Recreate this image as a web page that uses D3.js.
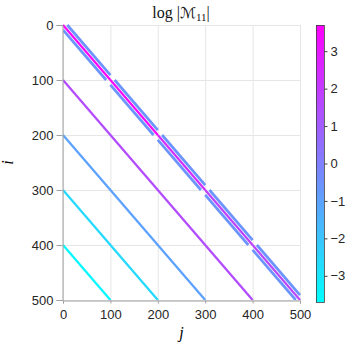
<!DOCTYPE html>
<html>
<head>
<meta charset="utf-8">
<script src="https://cdn.jsdelivr.net/npm/d3@7"></script>
<style>
  body { margin: 0; background: #fff; }
  svg { display: block; }
</style>
</head>
<body>
<svg id="chart" width="346" height="346"></svg>
<script>
// 矩阵块边界 (每块100)
const blockEdges = [0, 100, 200, 300, 400, 500];
const mainDiagValues = [3.6, 3.5, 2.4, 1.8, 1.7];
const bandOffset = 9;
const bandValues = [-0.6, -0.6, -0.6, -0.6, -0.6];
const offDiagOffsets = [100, 200, 300, 400];
const offDiagValues = [1.5, -1.0, -2.6, -3.5];
const xTicks = [0, 100, 200, 300, 400, 500];
const yTicks = [0, 100, 200, 300, 400, 500];
const cbTicks = [-3, -2, -1, 0, 1, 2, 3];
const cbDomain = [-3.7, 3.7];

const svg = d3.select("#chart");
const margin = { left: 63, right: 300, top: 25, bottom: 300 };

var x = d3.scaleLinear().domain([0, 500]).range([margin.left, margin.right]);
var y = d3.scaleLinear().domain([0, 500]).range([margin.top, margin.bottom]);
var color = d3.scaleSequential(d3.interpolateRgb("#00ffff", "#ff00ff")).domain(cbDomain);

// 网格线
const grid = svg.append("g").attr("stroke", "#e6e6e6").attr("stroke-width", 1);
grid.selectAll(".gx").data(xTicks).join("line")
    .attr("x1", d => x(d) + 0.5).attr("x2", d => x(d) + 0.5)
    .attr("y1", margin.top).attr("y2", margin.bottom);
grid.selectAll(".gy").data(yTicks).join("line")
    .attr("y1", d => y(d) + 0.5).attr("y2", d => y(d) + 0.5)
    .attr("x1", margin.left).attr("x2", margin.right);

// 线段
var segs = [];
blockEdges.slice(0, -1).forEach((s, b) => {
    const e = blockEdges[b + 1];
    segs.push({ j0: s + bandOffset, i0: s, j1: e, i1: e - bandOffset, v: bandValues[b], w: 2.7 });
    segs.push({ j0: s, i0: s + bandOffset, j1: e - bandOffset, i1: e, v: bandValues[b], w: 2.7 });
});
offDiagOffsets.forEach((d, k) => {
    segs.push({ j0: 0, i0: d, j1: 500 - d, i1: 500, v: offDiagValues[k], w: 2.3 });
});
blockEdges.slice(0, -1).forEach((s, b) => {
    const e = blockEdges[b + 1];
    segs.push({ j0: s, i0: s, j1: e, i1: e, v: mainDiagValues[b], w: 2.2 });
});

svg.append("defs").append("clipPath").attr("id", "plotClip")
    .append("rect").attr("x", margin.left).attr("y", margin.top - 1)
    .attr("width", margin.right - margin.left + 1).attr("height", margin.bottom - margin.top + 1);

svg.append("g").attr("clip-path", "url(#plotClip)")
    .selectAll("line").data(segs).join("line")
    .attr("x1", d => x(d.j0)).attr("y1", d => y(d.i0))
    .attr("x2", d => x(d.j1)).attr("y2", d => y(d.i1))
    .attr("stroke", d => color(d.v))
    .attr("stroke-width", d => d.w)
    .attr("stroke-linecap", "butt");

// 坐标轴
const font = "'Liberation Sans', Arial, sans-serif";
const xAxis = svg.append("g")
    .attr("transform", `translate(0,${margin.bottom + 0.5})`)
    .call(d3.axisBottom(x).tickValues(xTicks).tickSize(3).tickPadding(6));
const yAxis = svg.append("g")
    .attr("transform", `translate(${margin.left - 0.5},0)`)
    .call(d3.axisLeft(y).tickValues(yTicks).tickSize(6).tickPadding(3));
[xAxis, yAxis].forEach(a => {
    a.select(".domain").attr("stroke", "#a0a0a0");
    a.selectAll(".tick line").attr("stroke", "#a0a0a0");
    a.selectAll("text").attr("fill", "#262626").style("font-family", font).style("font-size", "13px");
});

// 标签
svg.append("text").attr("x", (margin.left + margin.right) / 2).attr("y", 338)
    .attr("text-anchor", "middle").style("font-family", "'Liberation Serif', serif")
    .style("font-style", "italic").style("font-size", "16px").text("j");
svg.append("text").attr("transform", `translate(13,${(margin.top + margin.bottom) / 2}) rotate(-90)`)
    .attr("text-anchor", "middle").style("font-family", "'Liberation Serif', serif")
    .style("font-style", "italic").style("font-size", "16px").text("i");

const title = svg.append("text").attr("x", 181).attr("y", 18)
    .attr("text-anchor", "middle").style("font-family", "'Liberation Serif', serif")
    .style("font-size", "16px").attr("fill", "#111");
title.append("tspan").text("log |");
title.append("tspan").style("font-family", "'DejaVu Sans', sans-serif").style("font-size", "15px").text("\u2133");
title.append("tspan").attr("dy", 3).style("font-size", "11px").text("11");
title.append("tspan").attr("dy", -3).text("|");

// 色条
const cb = { x: 316, w: 8, top: 25, bottom: 302 };
var cy = d3.scaleLinear().domain(cbDomain).range([cb.bottom, cb.top]);
const steps = d3.range(cb.top, cb.bottom);
svg.append("g").selectAll("rect").data(steps).join("rect")
    .attr("x", cb.x).attr("y", d => d).attr("width", cb.w).attr("height", 1.2)
    .attr("fill", d => color(cy.invert(d + 0.5)));
svg.append("rect").attr("x", cb.x + 0.5).attr("y", cb.top + 0.5)
    .attr("width", cb.w).attr("height", cb.bottom - cb.top)
    .attr("fill", "none").attr("stroke", "#404040").attr("stroke-width", 0.8);
const cbAxis = svg.append("g").attr("transform", `translate(${cb.x + cb.w + 0.5},0)`)
    .call(d3.axisRight(cy).tickValues(cbTicks).tickSize(3).tickPadding(3));
cbAxis.select(".domain").remove();
cbAxis.selectAll(".tick line").attr("stroke", "#404040");
cbAxis.selectAll("text").attr("fill", "#262626").style("font-family", font).style("font-size", "13px");
</script>
</body>
</html>
